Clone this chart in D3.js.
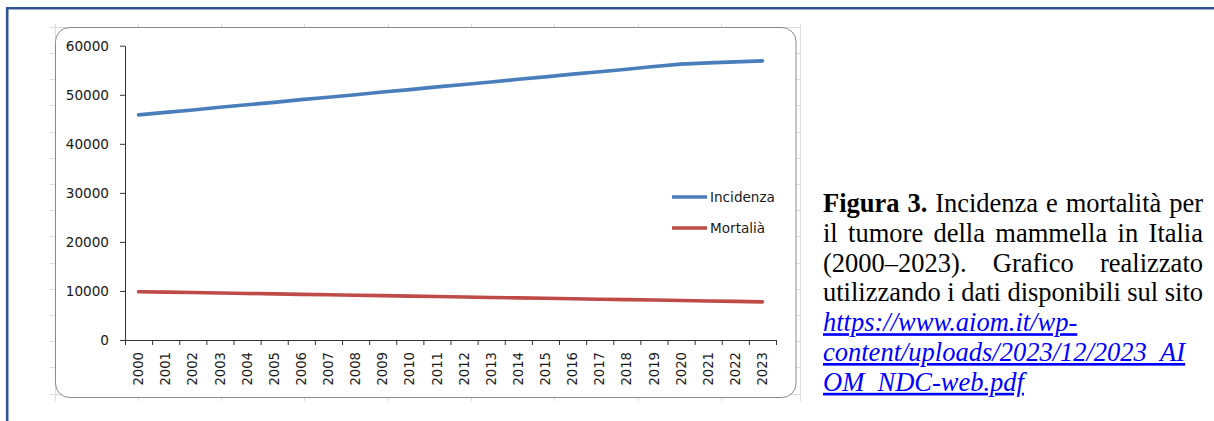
<!DOCTYPE html>
<html>
<head>
<meta charset="utf-8">
<script src="https://cdn.jsdelivr.net/npm/d3@7"></script>
<style>
  html, body { margin: 0; padding: 0; background: #ffffff; }
  svg { display: block; }
</style>
</head>
<body>
<svg id="fig" width="1214" height="421"></svg>
<script>
// Breast cancer incidence and mortality in Italy, 2000–2023
const years = ["2000","2001","2002","2003","2004","2005","2006","2007","2008","2009","2010","2011",
               "2012","2013","2014","2015","2016","2017","2018","2019","2020","2021","2022","2023"];
const incidenza = [45900, 46400, 46900, 47450, 47950, 48450, 49000, 49500, 50000, 50550, 51050, 51600,
                   52100, 52600, 53150, 53650, 54200, 54700, 55200, 55750, 56250, 56500, 56700, 56900];
const mortalita = [9850, 9760, 9670, 9580, 9490, 9400, 9310, 9220, 9130, 9040, 8950, 8860,
                   8770, 8680, 8590, 8500, 8410, 8320, 8230, 8140, 8050, 7960, 7870, 7780];
const yTicks = [0, 10000, 20000, 30000, 40000, 50000, 60000];
const seriesNames = ["Incidenza", "Mortalià"];
const seriesColors = ["#4A7EBB", "#BE4B48"];

// Caption beside the chart
const captionBold = "Figura 3.";
const captionLines = [
  "Figura 3. Incidenza e mortalità per",
  "il tumore della mammella in Italia",
  "(2000–2023). Grafico realizzato",
  "utilizzando i dati disponibili sul sito"
];
const linkLines = [
  "https://www.aiom.it/wp-",
  "content/uploads/2023/12/2023_AI",
  "OM_NDC-web.pdf"
];

const svg = d3.select("#fig");
const axisFont = "'DejaVu Sans', sans-serif";
const serifFont = "'Liberation Serif', 'Times New Roman', serif";

// ---- page frame (blue rule on top and left) ----
svg.append("line").attr("x1", 6).attr("x2", 1214).attr("y1", 8.3).attr("y2", 8.3)
  .attr("stroke", "#2F5496").attr("stroke-width", 2.6);
svg.append("line").attr("x1", 7.2).attr("x2", 7.2).attr("y1", 7).attr("y2", 421)
  .attr("stroke", "#2F5496").attr("stroke-width", 2.6);

// ---- faint sheet cell grid behind the chart box ----
const sheet = { x0: 50, x1: 800, y0: 24, y1: 401 };
const colEdges = d3.range(9).map(i => 54.5 + i * 83.33).concat([799.5]);
const rowEdges = d3.range(15).map(i => 26.7 + i * 26.2);
const grid = svg.append("g").attr("stroke", "#dcdcdc").attr("stroke-width", 1);
colEdges.forEach(cx => grid.append("line")
  .attr("x1", Math.round(cx) + 0.5).attr("x2", Math.round(cx) + 0.5)
  .attr("y1", sheet.y0).attr("y2", sheet.y1));
rowEdges.forEach(ry => grid.append("line")
  .attr("x1", sheet.x0).attr("x2", sheet.x1)
  .attr("y1", Math.round(ry) + 0.5).attr("y2", Math.round(ry) + 0.5));

// ---- chart area box ----
svg.append("rect")
  .attr("x", 55.5).attr("y", 27.5).attr("width", 740.5).attr("height", 370)
  .attr("rx", 14).attr("ry", 14)
  .attr("fill", "#ffffff").attr("stroke", "#8a8a8a").attr("stroke-width", 1);

// ---- scales ----
const plot = { left: 125, right: 776, top: 45.7, bottom: 340 };
const x = d3.scaleBand().domain(years).range([plot.left, plot.right]).padding(0);
const xEdge = d3.scaleLinear().domain([0, years.length]).range([plot.left, plot.right]);
const y = d3.scaleLinear().domain([0, 60000]).range([plot.bottom, plot.top]);

// ---- y axis ----
const yAxis = svg.append("g")
  .attr("transform", `translate(${plot.left},0)`)
  .call(d3.axisLeft(y).tickValues(yTicks).tickSize(5).tickSizeOuter(0).tickPadding(11)
        .tickFormat(d3.format("d")));
yAxis.select(".domain").attr("stroke", "#333");
yAxis.selectAll(".tick line").attr("stroke", "#333");
yAxis.selectAll("text").attr("font-family", axisFont).attr("font-size", "13.6px").attr("fill", "#1a1a1a");

// ---- x axis: tick marks between categories ----
const xTicks = svg.append("g")
  .attr("transform", `translate(0,${plot.bottom})`)
  .call(d3.axisBottom(xEdge).tickValues(d3.range(years.length + 1)).tickSize(5)
        .tickSizeOuter(0).tickFormat(""));
xTicks.select(".domain").attr("stroke", "#333");
xTicks.selectAll(".tick line").attr("stroke", "#333");

// ---- x axis: rotated year labels at category centres ----
const xLabels = svg.append("g")
  .attr("transform", `translate(0,${plot.bottom})`)
  .call(d3.axisBottom(x).tickSize(0).tickSizeOuter(0));
xLabels.select(".domain").remove();
xLabels.selectAll("text")
  .attr("transform", "rotate(-90)")
  .attr("x", -12).attr("y", 0).attr("dy", "0.35em")
  .attr("text-anchor", "end")
  .attr("font-family", axisFont).attr("font-size", "13.2px").attr("fill", "#1a1a1a");

// ---- series lines ----
const line = d3.line()
  .x((d, i) => x(years[i]) + x.bandwidth() / 2)
  .y(d => y(d));
[incidenza, mortalita].forEach((vals, k) => {
  svg.append("path")
    .datum(vals)
    .attr("d", line)
    .attr("fill", "none")
    .attr("stroke", seriesColors[k])
    .attr("stroke-width", 3.6)
    .attr("stroke-linecap", "round")
    .attr("stroke-linejoin", "round");
});

// ---- legend ----
const legend = svg.append("g").attr("transform", "translate(672,197)");
seriesNames.forEach((name, k) => {
  const row = legend.append("g").attr("transform", `translate(0,${k * 31})`);
  row.append("line").attr("x1", 0).attr("x2", 35).attr("y1", 0).attr("y2", 0)
    .attr("stroke", seriesColors[k]).attr("stroke-width", 3.6);
  row.append("text").attr("x", 38).attr("y", 0).attr("dy", "0.35em")
    .attr("font-family", axisFont).attr("font-size", "13.6px").attr("fill", "#1a1a1a")
    .text(name);
});

// ---- caption (justified block) ----
const cap = { left: 823, right: 1203, top: 212, step: 29.8, size: 26.5 };
const capG = svg.append("g").attr("font-family", serifFont).attr("font-size", cap.size + "px");

function wordWidth(word, bold, italic) {
  const t = capG.append("text").attr("font-weight", bold ? "bold" : "normal")
    .attr("font-style", italic ? "italic" : "normal").text(word);
  const w = t.node().getComputedTextLength();
  t.remove();
  return w;
}

const boldWords = captionBold.split(" ");
captionLines.forEach((ln, li) => {
  const words = ln.split(" ").map((w, wi) => ({
    w, bold: li === 0 && wi < boldWords.length
  }));
  words.forEach(d => d.width = wordWidth(d.w, d.bold, false));
  const total = d3.sum(words, d => d.width);
  const gap = (cap.right - cap.left - total) / (words.length - 1);
  const text = capG.append("text").attr("y", cap.top + li * cap.step).attr("fill", "#000");
  let cx = cap.left;
  words.forEach(d => {
    text.append("tspan").attr("x", cx).attr("font-weight", d.bold ? "bold" : "normal").text(d.w);
    cx += d.width + gap;
  });
});

linkLines.forEach((ln, i) => {
  capG.append("text")
    .attr("x", cap.left)
    .attr("y", cap.top + (captionLines.length + i) * cap.step)
    .attr("font-style", "italic")
    .attr("text-decoration", "underline")
    .attr("fill", "#0000FF")
    .text(ln);
});
</script>
</body>
</html>
